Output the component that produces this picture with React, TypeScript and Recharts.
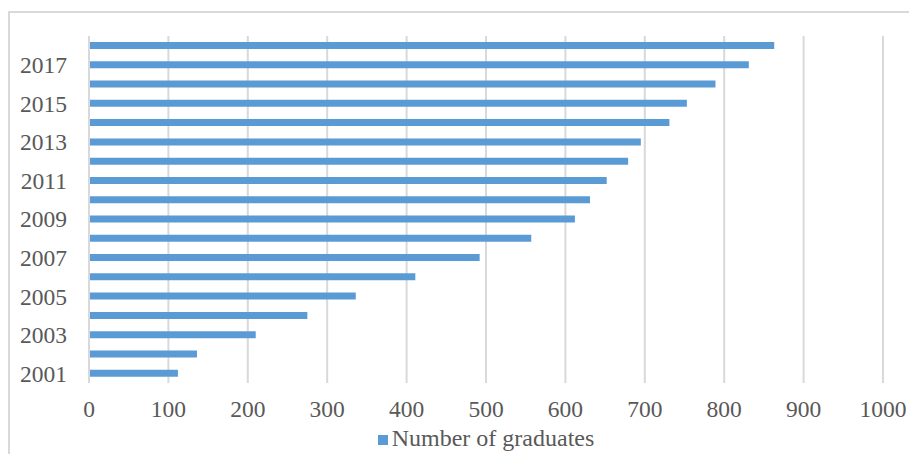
import { Bar, BarChart, CartesianGrid, Legend, XAxis, YAxis } from "recharts"

const years = [
  "2001", "2002", "2003", "2004", "2005", "2006", "2007", "2008", "2009",
  "2010", "2011", "2012", "2013", "2014", "2015", "2016", "2017", "2018",
]
const graduates = [112, 136, 210, 275, 336, 411, 492, 557, 612, 631, 652, 679, 695, 731, 753, 789, 831, 863]
const xTicks = [0, 100, 200, 300, 400, 500, 600, 700, 800, 900, 1000]

const font = "'Liberation Serif', 'Times New Roman', serif"
const tickStyle = { fill: "#595959", fontSize: 23.5, fontFamily: font }

export default function App() {
  const chartData = years.map((year, i) => ({ year, graduates: graduates[i] }))

  return (
    <div
      style={{
        width: 909,
        height: 454,
        paddingLeft: 8,
        paddingTop: 11,
        boxSizing: "border-box",
        overflow: "hidden",
        background: "#fff",
      }}
    >
      <style>{"body { margin: 0; }"}</style>
      <div
        style={{
          width: 901,
          height: 443,
          boxSizing: "border-box",
          borderTop: "2px solid #d9d9d9",
          borderLeft: "2px solid #d9d9d9",
          fontFamily: font,
        }}
      >
        <BarChart
          width={899}
          height={441}
          data={chartData}
          layout="vertical"
          margin={{ top: 23, right: 26, bottom: 12, left: 0 }}
          style={{ overflow: "visible" }}
        >
          <CartesianGrid horizontal={false} stroke="#d9d9d9" strokeWidth={2} />
          <XAxis
            type="number"
            domain={[0, 1000]}
            ticks={xTicks}
            axisLine={false}
            tickLine={false}
            tick={tickStyle}
            tickMargin={11}
            height={32}
          />
          <YAxis
            type="category"
            dataKey="year"
            reversed
            interval={1}
            width={79}
            axisLine={{ stroke: "#d9d9d9", strokeWidth: 2 }}
            tickLine={false}
            tick={tickStyle}
            tickMargin={16}
          />
          <Legend
            verticalAlign="bottom"
            iconType="square"
            iconSize={10}
            wrapperStyle={{ left: 84, width: 794, bottom: 2, fontSize: 24, fontFamily: font }}
            formatter={(value) => <span style={{ color: "#595959" }}>{value}</span>}
          />
          <Bar
            dataKey="graduates"
            name="Number of graduates"
            fill="#5b9bd5"
            barSize={7}
            isAnimationActive={false}
          />
        </BarChart>
      </div>
    </div>
  )
}
